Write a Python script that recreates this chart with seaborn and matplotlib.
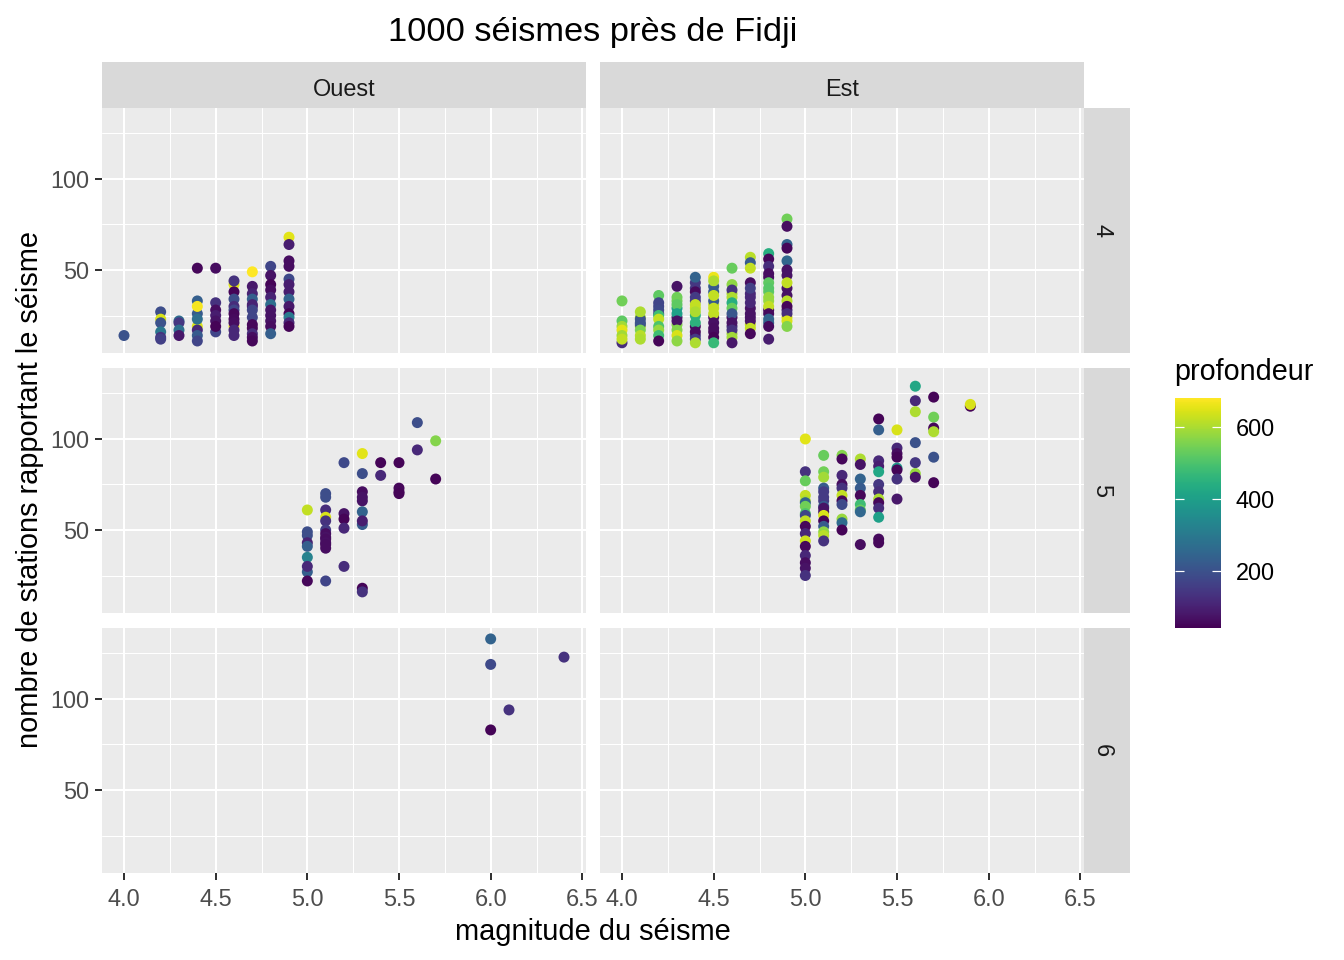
import matplotlib
matplotlib.use("Agg")
import matplotlib.pyplot as plt
from matplotlib.cm import ScalarMappable
from matplotlib.colors import Normalize
from matplotlib.patches import Rectangle
from matplotlib.ticker import FixedLocator
import pandas as pd
import seaborn as sns

# Ouest, mag 4
o4_mag = [4.0, 4.2, 4.3, 4.4, 4.5, 4.6, 4.7, 4.8, 4.9]
o4_stations = [
    [14],
    [27, 23, 21, 16, 13, 12],
    [22, 21, 17, 14],
    [51, 33, 26, 19, 17, 14, 11, 30, 23],
    [16, 32, 28, 25, 22, 19, 51],
    [42, 44, 38, 34, 30, 28, 19, 26, 23, 21, 17, 14],
    [49, 41, 37, 34, 31, 30, 28, 24, 20, 18, 15, 13, 11],
    [52, 47, 42, 39, 35, 31, 28, 25, 22, 19, 15],
    [68, 64, 55, 52, 45, 42, 38, 34, 30, 26, 24, 21, 19],
]
o4_depth = [
    [200],
    [190, 640, 200, 290, 130, 160],
    [260, 140, 270, 80],
    [50, 230, 220, 640, 110, 220, 170, 670, 270],
    [170, 130, 60, 90, 70, 45, 60],
    [650, 130, 45, 190, 120, 170, 660, 50, 55, 60, 110, 110],
    [680, 80, 100, 230, 100, 100, 170, 170, 50, 50, 120, 60, 50],
    [170, 70, 45, 60, 100, 270, 75, 70, 70, 60, 230],
    [650, 90, 60, 60, 180, 90, 90, 240, 80, 45, 300, 110, 45],
]

# Est, mag 4
e4_mag = [4.0, 4.1, 4.2, 4.3, 4.4, 4.5, 4.6, 4.7, 4.8, 4.9]
e4_stations = [
    [33, 22, 19, 17, 14, 10, 12],
    [24, 23, 27, 21, 19, 20, 17, 14, 12],
    [30, 26, 36, 32, 28, 25, 23, 19, 17, 14, 11],
    [33, 29, 24, 20, 41, 35, 31, 26, 22, 17, 14, 11],
    [43, 33, 29, 25, 19, 14, 46, 40, 38, 35, 31, 27, 21, 16, 12, 10],
    [41, 31, 24, 16, 46, 44, 38, 33, 36, 29, 26, 21, 18, 13, 10],
    [37, 24, 19, 15, 51, 42, 39, 35, 32, 29, 26, 21, 17, 13, 10],
    [37, 35, 29, 24, 20, 57, 54, 51, 43, 40, 32, 26, 22, 18, 15],
    [46, 38, 33, 28, 21, 59, 56, 52, 48, 43, 40, 35, 30, 26, 23, 19, 12],
    [47, 40, 28, 24, 78, 74, 64, 62, 55, 50, 43, 36, 33, 30, 26, 22, 19],
]
e4_depth = [
    [540, 520, 590, 650, 590, 120, 620],
    [600, 200, 600, 200, 620, 200, 550, 610, 600],
    [170, 180, 520, 170, 180, 480, 620, 500, 580, 480, 45],
    [540, 400, 70, 560, 70, 540, 520, 400, 70, 560, 640, 570],
    [140, 150, 620, 450, 60, 150, 240, 140, 55, 150, 620, 600, 450, 60, 150, 600],
    [220, 620, 65, 60, 660, 600, 220, 220, 620, 620, 620, 65, 60, 45, 470],
    [600, 70, 130, 590, 530, 570, 130, 600, 440, 530, 210, 70, 130, 590, 80],
    [110, 110, 70, 70, 620, 610, 220, 620, 60, 160, 110, 70, 70, 620, 50],
    [60, 520, 580, 55, 240, 440, 50, 120, 60, 520, 510, 580, 620, 55, 240, 55, 90],
    [70, 70, 120, 640, 540, 60, 240, 50, 250, 70, 620, 70, 610, 50, 120, 640, 560],
]

# Ouest, mag 5
o5_mag = [5.0, 5.1, 5.2, 5.3, 5.4, 5.5, 5.6, 5.7]
o5_stations = [
    [61, 49, 47, 43, 41, 35, 27, 30, 22],
    [70, 68, 61, 57, 55, 50, 48, 46, 45, 43, 42, 40, 22],
    [87, 59, 56, 51, 30],
    [92, 81, 71, 68, 66, 60, 53, 55, 18, 16],
    [87, 80],
    [87, 73, 71, 70],
    [109, 94],
    [99, 78],
]
o5_depth = [
    [620, 190, 190, 100, 230, 320, 230, 110, 50],
    [190, 190, 120, 640, 130, 150, 60, 70, 60, 65, 60, 60, 170],
    [180, 70, 45, 110, 120],
    [650, 190, 60, 70, 70, 240, 220, 90, 45, 130],
    [45, 110],
    [45, 50, 50, 45],
    [190, 110],
    [560, 45],
]

# Est, mag 5
e5_mag = [5.0, 5.1, 5.2, 5.3, 5.4, 5.5, 5.6, 5.7, 5.9]
e5_stations = [
    [100, 82, 77, 69, 66, 65, 63, 59, 58, 55, 52, 48, 44, 41, 36, 32, 29, 25],
    [66, 60, 91, 82, 79, 73, 71, 68, 63, 62, 58, 55, 52, 49, 47, 44],
    [91, 89, 80, 75, 73, 69, 66, 64, 56, 54, 50],
    [89, 86, 78, 73, 69, 64, 61, 60, 42],
    [111, 105, 88, 85, 82, 75, 71, 67, 65, 62, 57, 45, 43],
    [105, 95, 92, 90, 84, 83, 78, 67],
    [129, 121, 115, 98, 87, 81, 79],
    [123, 112, 106, 104, 90, 76],
    [118, 119],
]
e5_depth = [
    [650, 130, 530, 620, 600, 240, 540, 500, 170, 620, 50, 110, 630, 50, 110, 60, 70, 130],
    [150, 70, 530, 540, 590, 220, 150, 150, 220, 70, 640, 45, 220, 570, 610, 130],
    [560, 50, 110, 60, 130, 620, 50, 180, 580, 260, 45],
    [600, 70, 240, 220, 50, 480, 530, 250, 60],
    [45, 230, 110, 90, 420, 140, 120, 600, 50, 120, 400, 55, 50],
    [640, 110, 60, 45, 380, 45, 130, 80],
    [420, 110, 600, 200, 140, 580, 70],
    [45, 540, 50, 600, 200, 45],
    [45, 640],
]

# Ouest, mag 6 (Est has none)
o6_mag = [6.0, 6.1, 6.4]
o6_stations = [[133, 119, 83], [94], [123]]
o6_depth = [[240, 180, 45], [130], [130]]

sides = ["Ouest", "Est"]
mag_rows = ["4", "5", "6"]
xtick_vals = [4.0, 4.5, 5.0, 5.5, 6.0, 6.5]
xtick_minor = [4.25, 4.75, 5.25, 5.75, 6.25]
ytick_vals = [50, 100]
ytick_minor = [25, 75, 125]
cbar_ticks = [200, 400, 600]

W, H = 1344, 960


def panel_rows(side, row, mags, stations, depths):
    out = []
    for m, st, d in zip(mags, stations, depths):
        for s_val, d_val in zip(st, d):
            out.append({"side": side, "row": row, "magnitude": m,
                        "stations": s_val, "profondeur": d_val})
    return out


rows = []
rows += panel_rows("Ouest", "4", o4_mag, o4_stations, o4_depth)
rows += panel_rows("Est", "4", e4_mag, e4_stations, e4_depth)
rows += panel_rows("Ouest", "5", o5_mag, o5_stations, o5_depth)
rows += panel_rows("Est", "5", e5_mag, e5_stations, e5_depth)
rows += panel_rows("Ouest", "6", o6_mag, o6_stations, o6_depth)
df = pd.DataFrame(rows)

sns.set_theme(style="darkgrid", rc={
    "axes.facecolor": "#EBEBEB",
    "grid.color": "white",
    "xtick.color": "#333333",
    "ytick.color": "#333333",
    "xtick.labelcolor": "#4D4D4D",
    "ytick.labelcolor": "#4D4D4D",
})
plt.rcParams["font.family"] = ["Liberation Sans", "DejaVu Sans"]

norm = Normalize(40, 680)
g = sns.FacetGrid(df, row="row", col="side", row_order=mag_rows, col_order=sides,
                  sharex=True, sharey=True, despine=False, height=5 / 3, aspect=1.4)
g.map_dataframe(sns.scatterplot, x="magnitude", y="stations", hue="profondeur",
                palette="viridis", hue_norm=norm, s=17, linewidth=0, legend=False)
g.figure.set_size_inches(7, 5)
g.figure.subplots_adjust(left=102 / W, right=1084 / W, top=1 - 108 / H, bottom=1 - 873 / H,
                         wspace=14 / 484, hspace=15 / 245)
g.set_titles("")
g.set_axis_labels("", "")
g.set(xlim=(3.88, 6.52), ylim=(4.4, 139))

for i in range(3):
    for j in range(2):
        ax = g.axes[i, j]
        ax.set_axisbelow(True)
        for s in ax.spines.values():
            s.set_visible(False)
        ax.set_xticks(xtick_vals)
        ax.set_yticks(ytick_vals)
        ax.xaxis.set_minor_locator(FixedLocator(xtick_minor))
        ax.yaxis.set_minor_locator(FixedLocator(ytick_minor))
        ax.grid(which="major", color="white", linewidth=0.75)
        ax.grid(which="minor", color="white", linewidth=0.38)
        ax.tick_params(which="minor", length=0)
        ax.tick_params(which="major", left=(j == 0), bottom=(i == 2), length=2.75, width=0.75,
                       labelleft=(j == 0), labelbottom=(i == 2), labelsize=8.8, pad=2.2)
        ax.tick_params(axis="x", pad=2.9)
        if i == 2:
            ax.set_xticklabels(["4.0", "4.5", "5.0", "5.5", "6.0", "6.5"])

fig = g.figure

# facet strips
for j, ax in enumerate(g.axes[0]):
    box = ax.get_position()
    fig.add_artist(Rectangle((box.x0, box.y1), box.width, 46 / H, transform=fig.transFigure,
                             facecolor="#D9D9D9", edgecolor="none"))
    fig.text((box.x0 + box.x1) / 2, box.y1 + 19 / H, sides[j], ha="center", va="center",
             fontsize=8.8, color="#1A1A1A")
for i, ax in enumerate(g.axes[:, 1]):
    box = ax.get_position()
    fig.add_artist(Rectangle((box.x1, box.y0), 46 / W, box.height, transform=fig.transFigure,
                             facecolor="#D9D9D9", edgecolor="none"))
    fig.text(box.x1 + 18 / W, (box.y0 + box.y1) / 2, mag_rows[i], ha="center", va="center",
             rotation=-90, fontsize=8.8, color="#1A1A1A")

fig.text(593 / W, 1 - 32 / H, "1000 séismes près de Fidji", ha="center", va="center",
         fontsize=12.9, color="black")
fig.text(593 / W, 1 - 932 / H, "magnitude du séisme", ha="center", va="center",
         fontsize=10.9, color="black")
fig.text(30 / W, 1 - 490 / H, "nombre de stations rapportant le séisme", ha="center", va="center",
         rotation=90, fontsize=10.9, color="black")

# colour bar
cax = fig.add_axes([1175 / W, 1 - 628 / H, 46 / W, 230 / H])
cbar = fig.colorbar(ScalarMappable(norm=norm, cmap="viridis"), cax=cax)
cbar.outline.set_visible(False)
cbar.set_ticks(cbar_ticks)
cax.set_axisbelow(False)
cax.tick_params(axis="y", which="major", direction="in", color="white", length=3.4, width=0.45,
                left=True, right=True, labelright=True, labelleft=False,
                labelsize=8.8, labelcolor="black", pad=5.5)
cax.tick_params(which="minor", length=0)
cax.grid(False)
fig.text(1174 / W, 1 - 372 / H, "profondeur", ha="left", va="center", fontsize=10.8, color="black")

fig.savefig("out.png", dpi=192, facecolor="white")
plt.close(fig)
